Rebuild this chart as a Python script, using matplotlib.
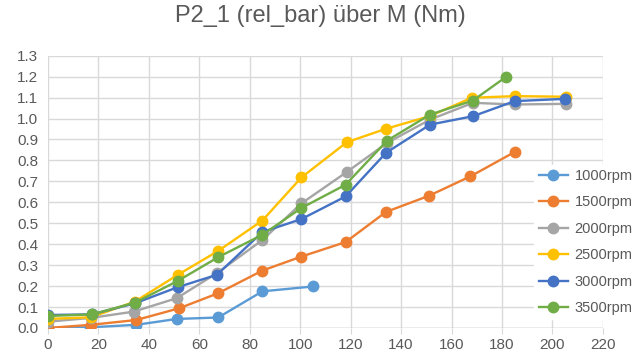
import numpy as np
import matplotlib.pyplot as plt

# Messpunkte
m_1000 = [0, 16.5, 35, 51, 67.5, 85, 105]
p_1000 = [0.0, 0.003, 0.015, 0.043, 0.05, 0.175, 0.198]

m_1500 = [0, 17, 35, 52, 67.5, 85, 100.5, 118, 134, 151, 167.5, 185]
p_1500 = [0.0, 0.015, 0.038, 0.094, 0.166, 0.274, 0.341, 0.41, 0.554, 0.631, 0.724, 0.84]

m_2000 = [0, 17, 34, 51, 67, 85, 100.5, 118.5, 134.5, 151.5, 168.5, 185, 205.5]
p_2000 = [0.03, 0.048, 0.078, 0.142, 0.262, 0.42, 0.595, 0.745, 0.884, 0.995, 1.075, 1.067, 1.07]

m_2500 = [0, 17, 34.5, 51.5, 67.5, 85, 100.5, 118.5, 134, 151.5, 168, 185, 205.5]
p_2500 = [0.043, 0.051, 0.126, 0.254, 0.368, 0.513, 0.719, 0.887, 0.951, 1.012, 1.099, 1.107, 1.104]

m_3000 = [0, 17.5, 34.5, 51.5, 67, 85, 100.5, 118, 134, 151.5, 168.5, 185, 205]
p_3000 = [0.062, 0.065, 0.118, 0.195, 0.254, 0.458, 0.52, 0.628, 0.836, 0.971, 1.011, 1.083, 1.094]

m_3500 = [0, 17.5, 34.5, 51.5, 67.5, 85, 100.5, 118, 134.5, 151.5, 168.5, 181.5]
p_3500 = [0.057, 0.065, 0.121, 0.225, 0.338, 0.445, 0.573, 0.684, 0.895, 1.019, 1.086, 1.198]

labels = ['1000rpm', '1500rpm', '2000rpm', '2500rpm', '3000rpm', '3500rpm']
farben = ['#5B9BD5', '#ED7D31', '#A5A5A5', '#FFC000', '#4472C4', '#70AD47']
serien = [(m_1000, p_1000), (m_1500, p_1500), (m_2000, p_2000),
          (m_2500, p_2500), (m_3000, p_3000), (m_3500, p_3500)]

plt.rcParams['font.family'] = ['Liberation Sans', 'DejaVu Sans']
grau = '#595959'

fig = plt.figure(figsize=(6.4, 3.64), dpi=100)
ax = fig.add_axes([0.075, 0.099, 0.867, 0.748])

for (m, p), lab, col in zip(serien, labels, farben):
    ax.plot(m, p, color=col, lw=1.7, marker='o', ms=7.5, label=lab, zorder=3)

ax.set_xlim(0, 220)
ax.set_ylim(0, 1.3)
ax.set_xticks(np.arange(0, 221, 20))
ax.set_yticks(np.arange(0, 1.31, 0.1))
ax.set_yticklabels([f'{v:.1f}' for v in np.arange(0, 1.31, 0.1)])
ax.grid(True, color='#D9D9D9', lw=1)
ax.set_axisbelow(True)
for s in ax.spines.values():
    s.set_visible(False)
ax.tick_params(axis='y', length=0, labelsize=11, colors=grau, pad=7)
ax.tick_params(axis='x', length=4, color='#D9D9D9', labelsize=11, colors=grau, pad=3)
ax.axhline(0, color='#BFBFBF', lw=1, zorder=2)

fig.suptitle('P2_1 (rel_bar) über M (Nm)', x=0.5, y=0.985, fontsize=17, color=grau)

leg = fig.legend(loc='center right', bbox_to_anchor=(1.0, 0.335), frameon=True,
                 fontsize=10.5, handlelength=2.0, labelspacing=0.85, handletextpad=0.45,
                 borderpad=0.3, borderaxespad=0.2)
leg.get_frame().set_facecolor('white')
leg.get_frame().set_edgecolor('white')
leg.get_frame().set_alpha(1)
for t in leg.get_texts():
    t.set_color(grau)

fig.savefig('out.png', dpi=100)
